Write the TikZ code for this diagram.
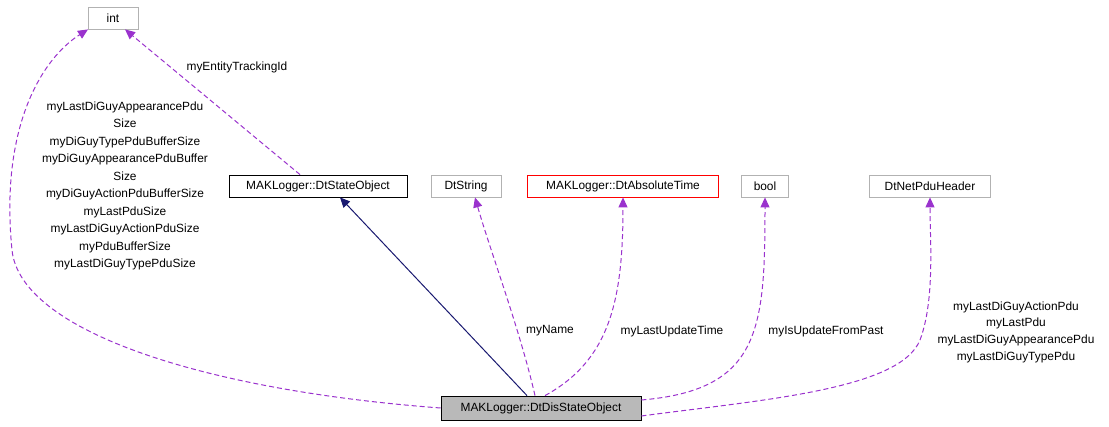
\documentclass[tikz,border=0pt]{standalone}
\usepackage{fontspec}
\setmainfont{Liberation Sans}
\usetikzlibrary{arrows.meta}
\definecolor{purp}{HTML}{9A32CD}
\definecolor{navy}{HTML}{191970}
\begin{document}
\begin{tikzpicture}[x=1pt,y=-1pt,line width=1pt,
  every node/.style={font=\fontsize{11.9}{14}\selectfont},
  box/.style={draw=#1,fill=white,line width=0.8pt,minimum height=22pt,inner xsep=6pt,anchor=center},
  box/.default={gray!60},
  dep/.style={purp,dashed,dash pattern=on 5pt off 3pt,-{Triangle[length=10pt,width=9pt]}},
  lbl/.style={align=center,inner sep=0pt}]
\useasboundingbox (0,0) rectangle (1109,427);
\node[box,minimum width=50pt] (int) at (113,18) {int};
\node[box=black,minimum width=178pt] (so) at (318,186) {MAKLogger::DtStateObject};
\node[box,minimum width=70pt] (str) at (466,186) {DtString};
\node[box=red,minimum width=191pt] (at) at (623,186) {MAKLogger::DtAbsoluteTime};
\node[box,minimum width=47pt] (bool) at (765,186) {bool};
\node[box,minimum width=121pt] (hdr) at (930,186) {DtNetPduHeader};
\node[box=black,fill=gray!55,minimum width=200pt,minimum height=24pt] (dis) at (541,408) {MAKLogger::DtDisStateObject};

\draw[navy,-{Triangle[length=10pt,width=9pt]}] ([xshift=-14pt]dis.north) -- ([xshift=22pt]so.south);
\draw[dep] (dis.west) .. controls (200,390) and (20,330) .. (12,250) .. controls (0,130) and (40,60) .. ([xshift=-25pt]int.south);
\draw[dep] ([xshift=-18pt]so.north) -- ([xshift=12pt]int.south);
\draw[dep] ([xshift=-6pt]dis.north) .. controls (520,330) and (490,250) .. ([xshift=9pt]str.south);
\draw[dep] ([xshift=4pt]dis.north) .. controls (610,360) and (623,300) .. (at.south);
\draw[dep] ([yshift=8pt]dis.east) .. controls (760,390) and (765,330) .. (bool.south);
\draw[dep] ([yshift=-8pt]dis.east) .. controls (760,400) and (900,390) .. (920,340) .. controls (935,300) and (930,240) .. (hdr.south);

\node[lbl,font=\fontsize{11.9}{17.5}\selectfont] (l1) at (125,186) {myLastDiGuyAppearancePdu\\Size\\myDiGuyTypePduBufferSize\\myDiGuyAppearancePduBuffer\\Size\\myDiGuyActionPduBufferSize\\myLastPduSize\\myLastDiGuyActionPduSize\\myPduBufferSize\\myLastDiGuyTypePduSize};
\node[lbl] (l2) at (237,67) {myEntityTrackingId};
\node[lbl] (l3) at (550,331) {myName};
\node[lbl] (l4) at (672,331) {myLastUpdateTime};
\node[lbl] (l5) at (826,331) {myIsUpdateFromPast};
\node[lbl,font=\fontsize{11.9}{16.7}\selectfont] (l6) at (1016,332) {myLastDiGuyActionPdu\\myLastPdu\\myLastDiGuyAppearancePdu\\myLastDiGuyTypePdu};
\end{tikzpicture}
\end{document}
